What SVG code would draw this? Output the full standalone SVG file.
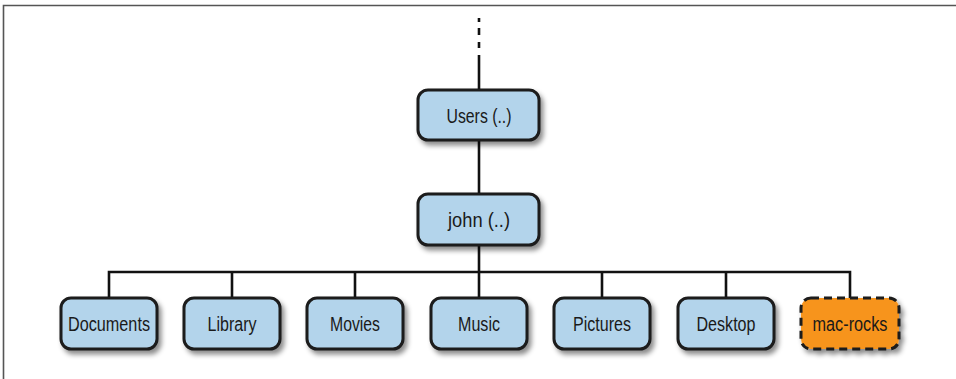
<svg xmlns="http://www.w3.org/2000/svg" width="956" height="379" viewBox="0 0 956 379">
<defs>
<filter id="sh" x="-20%" y="-30%" width="150%" height="170%">
<feDropShadow dx="3" dy="4" stdDeviation="2.5" flood-color="#000" flood-opacity="0.45"/>
</filter>
<style>
.box{fill:#b3d4eb;stroke:#1a1a1a;stroke-width:3;filter:url(#sh)}
.alt{fill:#f7941e;stroke:#1a1a1a;stroke-width:3;stroke-dasharray:8 5;filter:url(#sh)}
.lbl{font-family:"Liberation Sans",Arial,sans-serif;font-size:20px;fill:#1a1a1a;text-anchor:middle}
.ln{stroke:#111;stroke-width:2.6;fill:none}
.frame{stroke:#555;stroke-width:1.6;fill:none}
</style>
</defs>
<rect width="956" height="379" fill="#fff"/>
<path class="frame" d="M3.5 379 V5.5 H956"/>
<g id="connectors">
<path class="ln" d="M479 18 V22 M479 28 V35 M479 42 V48"/>
<path class="ln" d="M479 55 V91"/>
<path class="ln" d="M479 140 V195"/>
<path class="ln" d="M479 245 V299"/>
<path class="ln" d="M109 299 V272 H850 V299"/>
<path class="ln" d="M232 272 V299 M355 272 V299 M602 272 V299 M726 272 V299"/>
</g>
<g id="users"><rect class="box" x="418" y="90" width="121" height="50" rx="10"/><text class="lbl" x="479" y="123" textLength="65" lengthAdjust="spacingAndGlyphs">Users (..)</text></g>
<g id="john"><rect class="box" x="418" y="194" width="121" height="51" rx="10"/><text class="lbl" x="479" y="227" textLength="62" lengthAdjust="spacingAndGlyphs">john (..)</text></g>
<g id="documents"><rect class="box" x="61" y="298" width="96" height="51" rx="10"/><text class="lbl" x="109" y="331" textLength="82" lengthAdjust="spacingAndGlyphs">Documents</text></g>
<g id="library"><rect class="box" x="184" y="298" width="96" height="51" rx="10"/><text class="lbl" x="232" y="331" textLength="49" lengthAdjust="spacingAndGlyphs">Library</text></g>
<g id="movies"><rect class="box" x="307" y="298" width="96" height="51" rx="10"/><text class="lbl" x="355" y="331" textLength="50" lengthAdjust="spacingAndGlyphs">Movies</text></g>
<g id="music"><rect class="box" x="431" y="298" width="96" height="51" rx="10"/><text class="lbl" x="479" y="331" textLength="42" lengthAdjust="spacingAndGlyphs">Music</text></g>
<g id="pictures"><rect class="box" x="554" y="298" width="96" height="51" rx="10"/><text class="lbl" x="602" y="331" textLength="58" lengthAdjust="spacingAndGlyphs">Pictures</text></g>
<g id="desktop"><rect class="box" x="678" y="298" width="96" height="51" rx="10"/><text class="lbl" x="726" y="331" textLength="59" lengthAdjust="spacingAndGlyphs">Desktop</text></g>
<g id="mac-rocks"><rect class="alt" x="801" y="298" width="98" height="51" rx="10"/><text class="lbl" x="850" y="331" textLength="75" lengthAdjust="spacingAndGlyphs">mac-rocks</text></g>
</svg>
